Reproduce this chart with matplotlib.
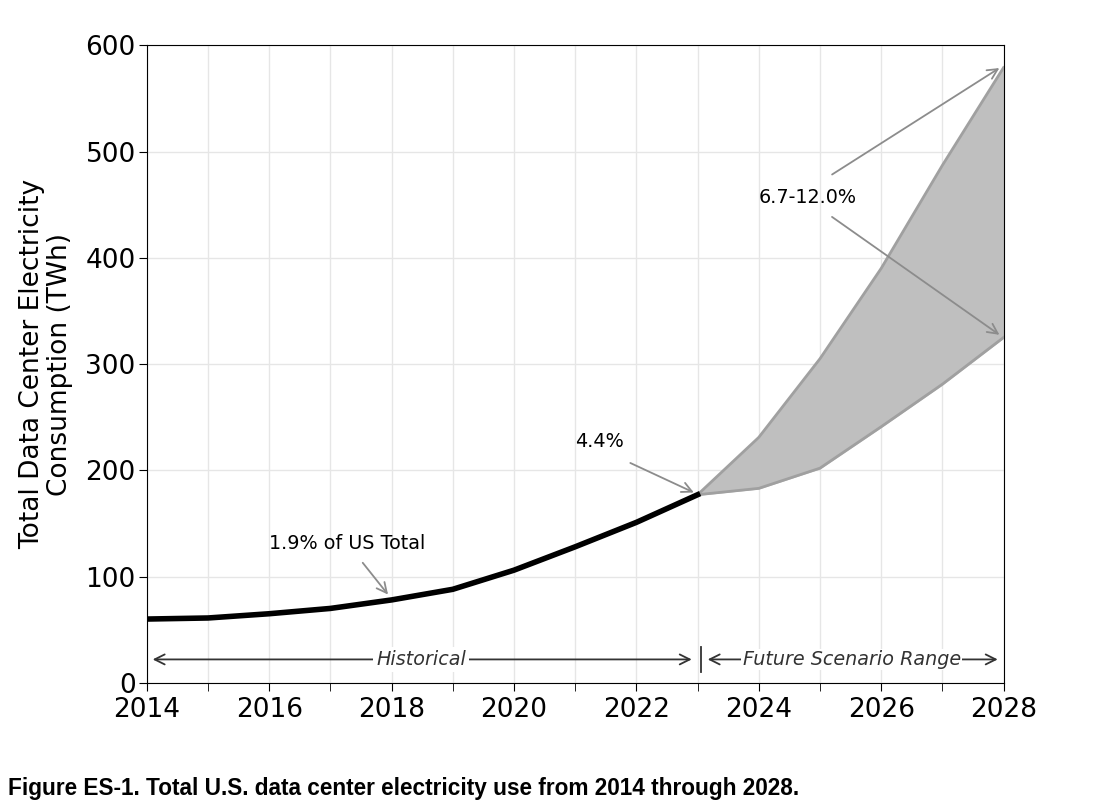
import matplotlib
matplotlib.use("Agg")
import matplotlib.pyplot as plt
import numpy as np

# historical and scenario values (TWh)
hist_years = [2014, 2015, 2016, 2017, 2018, 2019, 2020, 2021, 2022, 2023]
hist_twh = [60, 61, 65, 70, 78, 88, 106, 128, 151, 177]

future_years = [2023, 2024, 2025, 2026, 2027, 2028]
future_low = [177, 183, 202, 241, 281, 325]
future_high = [177, 231, 305, 390, 487, 579]

fig = plt.figure(figsize=(11.04, 8.09), dpi=100)
ax = fig.add_axes([0.133, 0.156, 0.776, 0.788])

ax.fill_between(future_years, future_low, future_high, color="#bfbfbf", zorder=2)
ax.plot(future_years, future_low, color="#a0a0a0", lw=2, zorder=3)
ax.plot(future_years, future_high, color="#a0a0a0", lw=2, zorder=3)
ax.plot(hist_years, hist_twh, color="black", lw=4, zorder=4)

ax.set_xlim(2014, 2028)
ax.set_ylim(0, 600)
ax.set_xticks(range(2014, 2029, 2))
ax.set_xticks(range(2014, 2029), minor=True)
ax.set_yticks(range(0, 601, 100))
ax.tick_params(axis="both", which="major", labelsize=19, length=6, pad=2)
ax.tick_params(axis="x", which="major", pad=4)
ax.tick_params(axis="x", which="minor", length=6)
ax.grid(True, which="both", color="#e6e6e6", lw=1, zorder=0)
ax.set_axisbelow(True)

ax.set_ylabel("Total Data Center Electricity\nConsumption (TWh)", fontsize=19, labelpad=9,
              linespacing=1.1)

arrow_gray = dict(arrowstyle="->", color="#8c8c8c", lw=1.3, mutation_scale=18)

ax.annotate("", xy=(2017.97, 81), xytext=(2017.5, 115), arrowprops=arrow_gray)
ax.text(2017.28, 131, "1.9% of US Total", fontsize=13.8, ha="center", va="center")

ax.annotate("", xy=(2022.98, 178), xytext=(2021.86, 208), arrowprops=arrow_gray)
ax.text(2021.4, 227, "4.4%", fontsize=13.8, ha="center", va="center")

ax.annotate("", xy=(2027.97, 580), xytext=(2025.16, 477), arrowprops=arrow_gray)
ax.annotate("", xy=(2027.97, 326), xytext=(2025.16, 440), arrowprops=arrow_gray)
ax.text(2024.8, 457, "6.7-12.0%", fontsize=13.8, ha="center", va="center")

# period labels along the bottom
dark = dict(arrowstyle="<->", color="#333333", lw=1.3, mutation_scale=18)
ax.annotate("", xy=(2014.05, 22), xytext=(2022.95, 22), arrowprops=dark, zorder=5)
ax.text(2018.48, 22, "Historical", fontsize=13.8, style="italic", color="#333333",
        ha="center", va="center", zorder=6,
        bbox=dict(facecolor="white", edgecolor="none", pad=2))
ax.plot([2023.05, 2023.05], [10, 34], color="#333333", lw=1.3, zorder=5)
ax.annotate("", xy=(2023.12, 22), xytext=(2027.95, 22), arrowprops=dark, zorder=5)
ax.text(2025.52, 22, "Future Scenario Range", fontsize=13.8, style="italic", color="#333333",
        ha="center", va="center", zorder=6,
        bbox=dict(facecolor="white", edgecolor="none", pad=1))

fig.text(0.007, 0.011, "Figure ES-1. Total U.S. data center electricity use from 2014 through 2028.",
         fontsize=16.3, fontweight="bold", family="Liberation Sans", ha="left", va="bottom")

fig.savefig("out.png", dpi=100)
